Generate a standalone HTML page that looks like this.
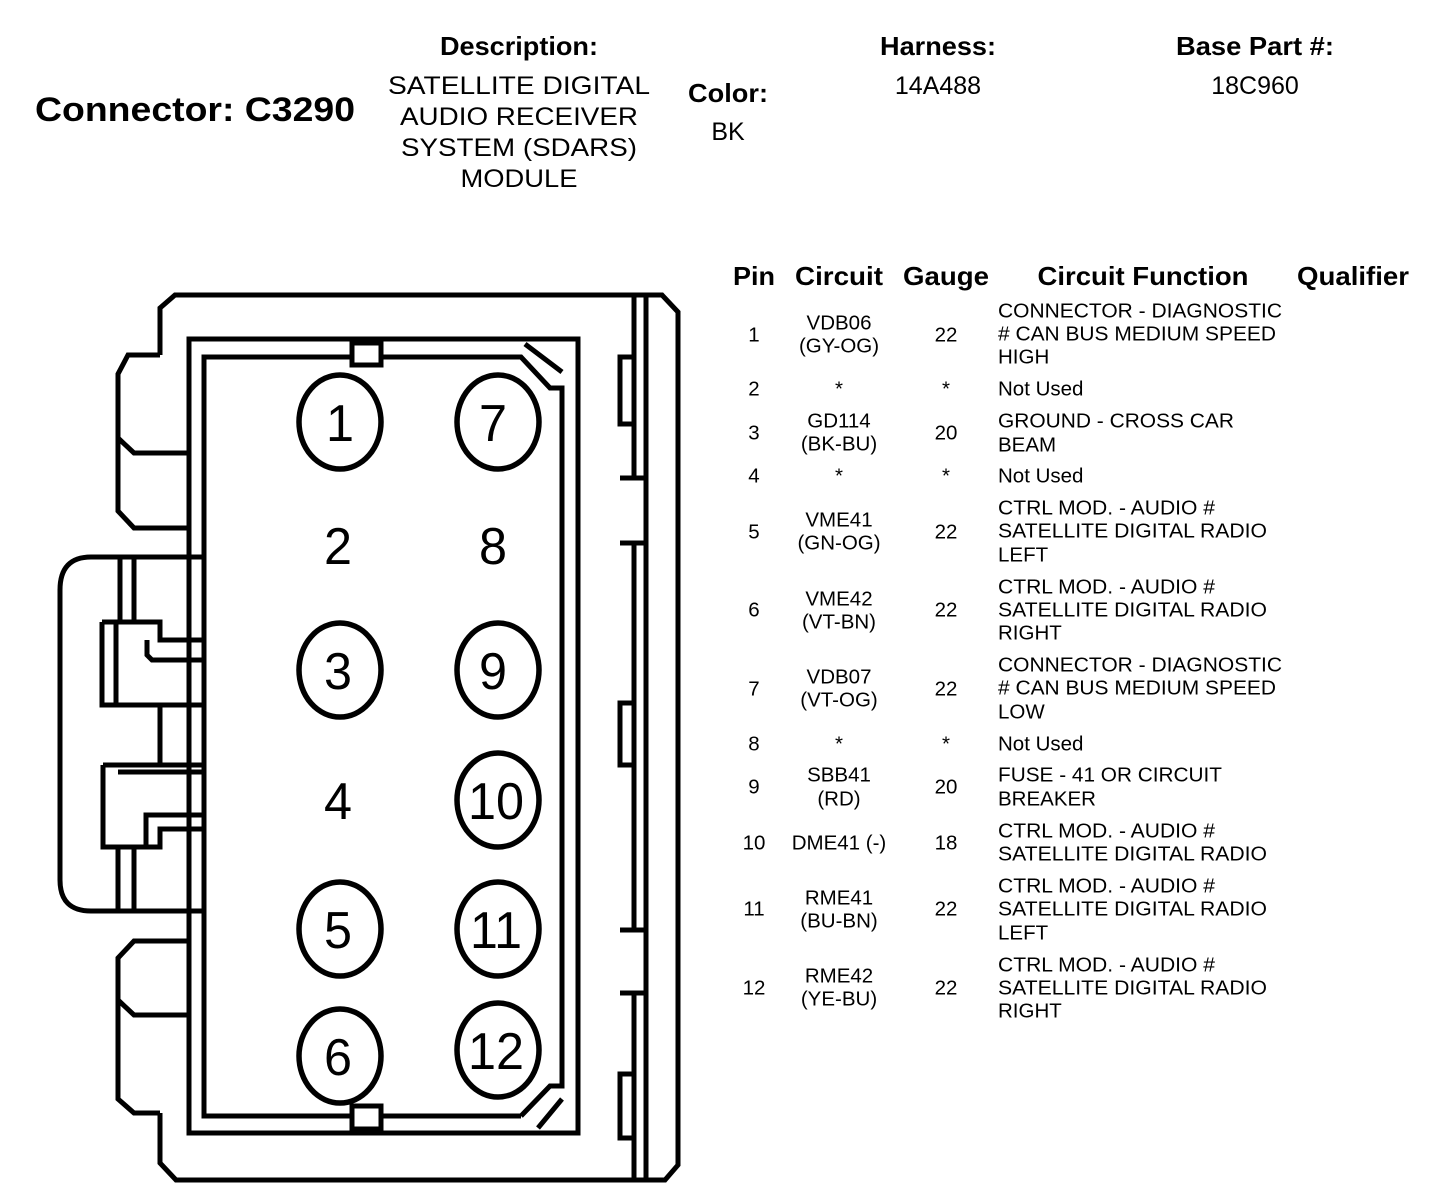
<!DOCTYPE html>
<html><head><meta charset="utf-8"><style>
html,body{margin:0;padding:0;background:#fff;}
svg{display:block;}
text{font-family:"Liberation Sans",Arial,sans-serif;fill:#000;}
.h{font-weight:bold;font-size:26px;}
.d{font-size:25px;}
.t{font-size:20.5px;}
.n{font-size:52px;}
</style></head><body>
<svg width="1440" height="1204" viewBox="0 0 1440 1204" xmlns="http://www.w3.org/2000/svg">
<text x="35" y="121" font-size="34" font-weight="bold" textLength="320" lengthAdjust="spacingAndGlyphs">Connector: C3290</text>
<text class="h" x="519" y="55" text-anchor="middle" textLength="158" lengthAdjust="spacingAndGlyphs">Description:</text>
<text class="d" x="519" y="94" text-anchor="middle" textLength="262" lengthAdjust="spacingAndGlyphs">SATELLITE DIGITAL</text>
<text class="d" x="519" y="125" text-anchor="middle" textLength="238" lengthAdjust="spacingAndGlyphs">AUDIO RECEIVER</text>
<text class="d" x="519" y="156" text-anchor="middle" textLength="236" lengthAdjust="spacingAndGlyphs">SYSTEM (SDARS)</text>
<text class="d" x="519" y="187" text-anchor="middle" textLength="117" lengthAdjust="spacingAndGlyphs">MODULE</text>
<text class="h" x="728" y="102" text-anchor="middle" textLength="80" lengthAdjust="spacingAndGlyphs">Color:</text>
<text class="d" x="728" y="140" text-anchor="middle">BK</text>
<text class="h" x="938" y="55" text-anchor="middle" textLength="116" lengthAdjust="spacingAndGlyphs">Harness:</text>
<text class="d" x="938" y="94" text-anchor="middle">14A488</text>
<text class="h" x="1255" y="55" text-anchor="middle" textLength="158" lengthAdjust="spacingAndGlyphs">Base Part #:</text>
<text class="d" x="1255" y="94" text-anchor="middle">18C960</text>

<g class="h" text-anchor="middle">
<text x="754" y="285" textLength="42" lengthAdjust="spacingAndGlyphs">Pin</text>
<text x="839" y="285" textLength="88" lengthAdjust="spacingAndGlyphs">Circuit</text>
<text x="946" y="285" textLength="86" lengthAdjust="spacingAndGlyphs">Gauge</text>
<text x="1143" y="285" textLength="211" lengthAdjust="spacingAndGlyphs">Circuit Function</text>
<text x="1353" y="285" textLength="112" lengthAdjust="spacingAndGlyphs">Qualifier</text>
</g>
<g class="t" dominant-baseline="central">
<g text-anchor="middle">
<text x="754" y="335">1</text><text x="839" y="323">VDB06</text><text x="839" y="346">(GY-OG)</text><text x="946" y="335">22</text>
<text x="754" y="389">2</text><text x="839" y="389">*</text><text x="946" y="389">*</text>
<text x="754" y="433">3</text><text x="839" y="421">GD114</text><text x="839" y="444">(BK-BU)</text><text x="946" y="433">20</text>
<text x="754" y="476">4</text><text x="839" y="476">*</text><text x="946" y="476">*</text>
<text x="754" y="532">5</text><text x="839" y="520">VME41</text><text x="839" y="543">(GN-OG)</text><text x="946" y="532">22</text>
<text x="754" y="610">6</text><text x="839" y="599">VME42</text><text x="839" y="622">(VT-BN)</text><text x="946" y="610">22</text>
<text x="754" y="689">7</text><text x="839" y="677">VDB07</text><text x="839" y="700">(VT-OG)</text><text x="946" y="689">22</text>
<text x="754" y="744">8</text><text x="839" y="744">*</text><text x="946" y="744">*</text>
<text x="754" y="787">9</text><text x="839" y="775">SBB41</text><text x="839" y="799">(RD)</text><text x="946" y="787">20</text>
<text x="754" y="843">10</text><text x="839" y="843">DME41 (-)</text><text x="946" y="843">18</text>
<text x="754" y="909">11</text><text x="839" y="898">RME41</text><text x="839" y="921">(BU-BN)</text><text x="946" y="909">22</text>
<text x="754" y="988">12</text><text x="839" y="976">RME42</text><text x="839" y="999">(YE-BU)</text><text x="946" y="988">22</text>
</g>
<g text-anchor="start">
<text x="998" y="311" textLength="284" lengthAdjust="spacingAndGlyphs">CONNECTOR - DIAGNOSTIC</text><text x="998" y="334" textLength="278" lengthAdjust="spacingAndGlyphs"># CAN BUS MEDIUM SPEED</text><text x="998" y="357">HIGH</text>
<text x="998" y="389">Not Used</text>
<text x="998" y="421" textLength="236" lengthAdjust="spacingAndGlyphs">GROUND - CROSS CAR</text><text x="998" y="445">BEAM</text>
<text x="998" y="476">Not Used</text>
<text x="998" y="508" textLength="217" lengthAdjust="spacingAndGlyphs">CTRL MOD. - AUDIO #</text><text x="998" y="531" textLength="269" lengthAdjust="spacingAndGlyphs">SATELLITE DIGITAL RADIO</text><text x="998" y="555">LEFT</text>
<text x="998" y="587" textLength="217" lengthAdjust="spacingAndGlyphs">CTRL MOD. - AUDIO #</text><text x="998" y="610" textLength="269" lengthAdjust="spacingAndGlyphs">SATELLITE DIGITAL RADIO</text><text x="998" y="633">RIGHT</text>
<text x="998" y="665" textLength="284" lengthAdjust="spacingAndGlyphs">CONNECTOR - DIAGNOSTIC</text><text x="998" y="688" textLength="278" lengthAdjust="spacingAndGlyphs"># CAN BUS MEDIUM SPEED</text><text x="998" y="712">LOW</text>
<text x="998" y="744">Not Used</text>
<text x="998" y="775" textLength="224" lengthAdjust="spacingAndGlyphs">FUSE - 41 OR CIRCUIT</text><text x="998" y="799">BREAKER</text>
<text x="998" y="831" textLength="217" lengthAdjust="spacingAndGlyphs">CTRL MOD. - AUDIO #</text><text x="998" y="854" textLength="269" lengthAdjust="spacingAndGlyphs">SATELLITE DIGITAL RADIO</text>
<text x="998" y="886" textLength="217" lengthAdjust="spacingAndGlyphs">CTRL MOD. - AUDIO #</text><text x="998" y="909" textLength="269" lengthAdjust="spacingAndGlyphs">SATELLITE DIGITAL RADIO</text><text x="998" y="933">LEFT</text>
<text x="998" y="965" textLength="217" lengthAdjust="spacingAndGlyphs">CTRL MOD. - AUDIO #</text><text x="998" y="988" textLength="269" lengthAdjust="spacingAndGlyphs">SATELLITE DIGITAL RADIO</text><text x="998" y="1011">RIGHT</text>
</g>
</g>

<g fill="none" stroke="#000" stroke-width="5" stroke-linejoin="miter">
<path d="M189,339 V339 M160,355 V308 L175,295 H662 L678,312 V1165 L665,1180 H176 L160,1163 V1113"/>
<path d="M160,355 H128 L118,374 V511 L134,528 H189"/>
<path d="M118,438 L134,453 H189"/>
<path d="M189,941 H134 L118,958 V1099 L134,1113 H160"/>
<path d="M118,1000 L134,1015 H189"/>
<path d="M204,557 H91 Q60,557 60,590 V880 Q60,911 91,911 H204"/>
<path d="M120,557 V622 M134,557 V622"/>
<path d="M118,847 V911 M134,847 V911"/>
<path d="M102,622 H160 V640 H204 M102,622 V705 H204 M116,622 V705"/>
<path d="M147,640 V655 L152,660 H204"/>
<path d="M160,705 V765"/>
<path d="M103,765 H204 M118,772 H204 M103,765 V847 H160 V829 H204 M146,847 V815 H204"/>
<path d="M189,1133 V339 H578 V1133 Z"/>
<path d="M521,1116 H204 V357 H521 L550,388 H562 V1086 H550 L521,1116"/>
<path d="M525,344 L562,372 M538,1128 L562,1099"/>
<rect x="352" y="343" width="29" height="22" fill="#fff"/>
<rect x="352" y="1106" width="29" height="23" fill="#fff"/>
<path d="M646,295 V1180"/>
<path d="M634,295 V476 M634,544 V930 M634,993 V1180"/>
<path d="M620,478 H646 M620,543 H646 M620,930 H646 M620,993 H646"/>
<path d="M634,357 H620 V424 H634"/>
<path d="M634,703 H620 V765 H634"/>
<path d="M634,1074 H620 V1138 H634"/>
<g stroke-width="5.5">
<ellipse cx="340" cy="422" rx="41" ry="47"/>
<ellipse cx="498" cy="422" rx="41" ry="47"/>
<ellipse cx="340" cy="670" rx="41" ry="47"/>
<ellipse cx="498" cy="670" rx="41" ry="47"/>
<ellipse cx="498" cy="800" rx="41" ry="47"/>
<ellipse cx="340" cy="929" rx="41" ry="47"/>
<ellipse cx="498" cy="929" rx="41" ry="47"/>
<ellipse cx="340" cy="1056" rx="41" ry="47"/>
<ellipse cx="498" cy="1050" rx="41" ry="47"/>
</g>
</g>
<g class="n" text-anchor="middle" dominant-baseline="central">
<text x="340" y="424" textLength="28" lengthAdjust="spacingAndGlyphs">1</text>
<text x="493" y="424" textLength="28" lengthAdjust="spacingAndGlyphs">7</text>
<text x="338" y="547" textLength="28" lengthAdjust="spacingAndGlyphs">2</text>
<text x="493" y="547" textLength="28" lengthAdjust="spacingAndGlyphs">8</text>
<text x="338" y="672" textLength="28" lengthAdjust="spacingAndGlyphs">3</text>
<text x="493" y="672" textLength="28" lengthAdjust="spacingAndGlyphs">9</text>
<text x="338" y="802" textLength="28" lengthAdjust="spacingAndGlyphs">4</text>
<text x="496" y="802" textLength="56" lengthAdjust="spacingAndGlyphs">10</text>
<text x="338" y="931" textLength="28" lengthAdjust="spacingAndGlyphs">5</text>
<text x="496" y="931" textLength="52" lengthAdjust="spacingAndGlyphs">11</text>
<text x="338" y="1058" textLength="28" lengthAdjust="spacingAndGlyphs">6</text>
<text x="496" y="1052" textLength="56" lengthAdjust="spacingAndGlyphs">12</text>
</g>
</svg>
</body></html>
